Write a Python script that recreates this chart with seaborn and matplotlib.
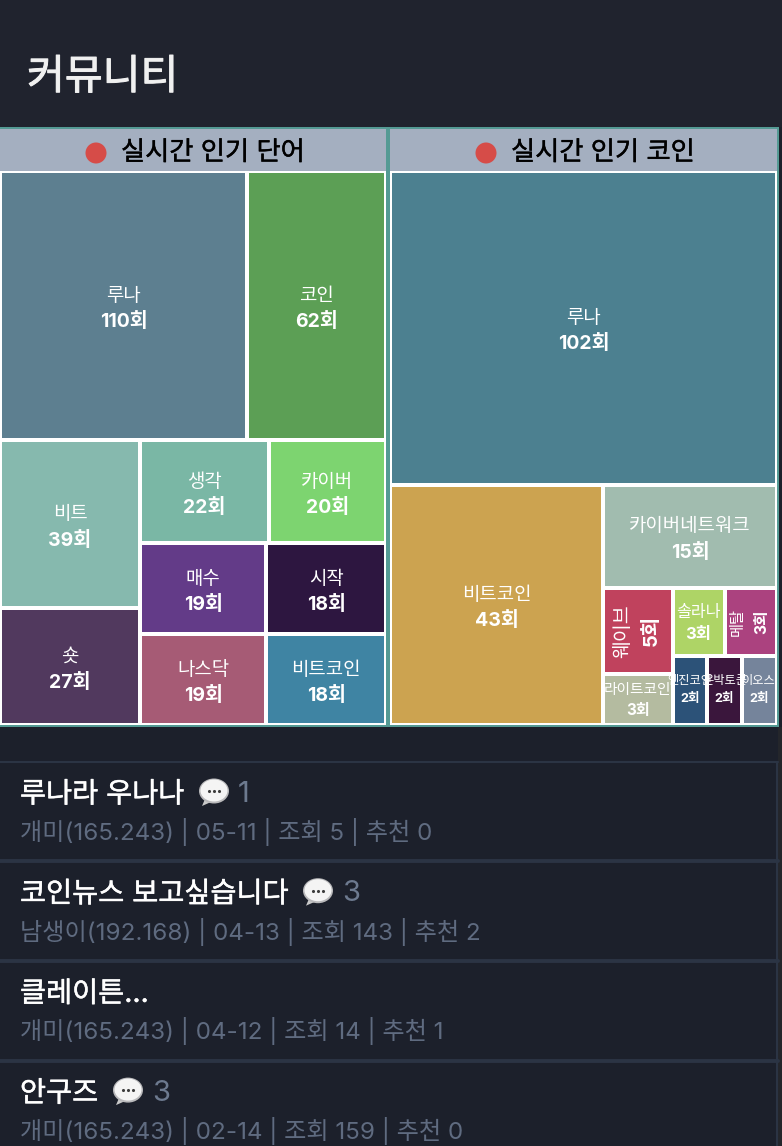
import matplotlib
matplotlib.use("Agg")
import matplotlib.pyplot as plt
from matplotlib.patches import Ellipse, Polygon, Rectangle
import matplotlib.patheffects as pe
import seaborn as sns

# treemap data
word_names = ["루나", "코인", "비트", "숏", "생각", "카이버", "매수", "나스닥", "시작", "비트코인"]
word_counts = [110, 62, 39, 27, 22, 20, 19, 19, 18, 18]
word_colors = ["#5d7f90", "#5c9f55", "#86b9ae", "#51395e", "#7ab7a5",
               "#7dd470", "#633b88", "#a65b75", "#2d1640", "#3f84a3"]

coin_names = ["루나", "비트코인", "카이버네트워크", "웨이브", "라이트코인",
              "솔라나", "메탈", "엔진코인", "온박토큰", "이오스"]
coin_counts = [102, 43, 15, 5, 3, 3, 3, 2, 2, 2]
coin_colors = ["#4c8090", "#cca350", "#a1bcaf", "#c0425d", "#b4bba0",
               "#aed466", "#ab427f", "#2c5278", "#3a163c", "#75849b"]

# board list
post_titles = ["루나라 우나나", "코인뉴스 보고싶습니다", "클레이튼...", "안구즈"]
post_meta = ["개미(165.243) | 05-11 | 조회 5 | 추천 0",
             "남생이(192.168) | 04-13 | 조회 143 | 추천 2",
             "개미(165.243) | 04-12 | 조회 14 | 추천 1",
             "개미(165.243) | 02-14 | 조회 159 | 추천 0"]
post_comments = [1, 3, None, 3]
bubble_x = [214, 318, None, 128]

BG_TOP = "#20232e"
BG_LIST = "#1c202b"
TEAL = "#549a94"
HEADER = "#a4afc0"
LINE = "#2b3444"
FONTS = ["Inter", "Noto Sans CJK KR", "DejaVu Sans"]

# label font size, half line gap and shift where a tile differs from the default
TILE_STYLE = {"라이트코인": (10.6, 10.5, 1), "솔라나": (11.6, 11, 1), "웨이브": (14, 14, -1), "메탈": (11, 12, -1),
              "엔진코인": (8.8, 9, -1), "온박토큰": (8.8, 9, -1), "이오스": (8.8, 9, -1)}
TURNED = ["웨이브", "메탈"]


def squarify(values, x0, y0, x1, y1):
    """Squarified treemap layout, returns (x, y, w, h) per value."""
    rects = []
    remaining = sum(values)
    scale = (x1 - x0) * (y1 - y0) / remaining
    i0 = 0
    n = len(values)
    while i0 < n:
        dx, dy = x1 - x0, y1 - y0
        i1 = i0 + 1
        total = lo = hi = values[i0]
        alpha = max(dy / dx, dx / dy) / remaining
        beta = total * total * alpha
        best = max(hi / beta, beta / lo)
        while i1 < n:
            v = values[i1]
            new_lo, new_hi = min(lo, v), max(hi, v)
            beta = (total + v) ** 2 * alpha
            ratio = max(new_hi / beta, beta / new_lo)
            if ratio > best:
                break
            total += v
            lo, hi, best = new_lo, new_hi, ratio
            i1 += 1
        if dx < dy:
            h = dy * total / remaining
            x = x0
            for v in values[i0:i1]:
                w = v * scale / h
                rects.append((x, y0, w, h))
                x += w
            y0 += h
        else:
            w = dx * total / remaining
            y = y0
            for v in values[i0:i1]:
                h = v * scale / w
                rects.append((x0, y, w, h))
                y += h
            x0 += w
        remaining -= total
        i0 = i1
    return rects


def tile_text(size):
    return dict(ha="center", va="center", color="white", fontsize=size, zorder=3, clip_on=False)


def draw_treemap(ax, names, counts, colors, x0, x1):
    panel = Rectangle((x0, 171), x1 - x0, 554, color="white", lw=0, zorder=1)
    ax.add_patch(panel)
    rects = squarify(counts, x0, 171, x1, 725)
    xs, ys, ws, hs = zip(*rects)
    bars = ax.bar(xs, hs, width=ws, bottom=ys, align="edge", color=colors,
                  edgecolor="white", linewidth=2.88, zorder=2)
    # keep the white tile edges inside the teal frame
    for bar in bars:
        bar.set_clip_path(panel)
    for name, count, (x, y, w, h) in zip(names, counts, rects):
        cx, cy = x + w / 2, y + h / 2
        size, gap, shift = TILE_STYLE.get(name, (13.6, 13, 3))
        if name in TURNED:
            ax.text(cx - gap + shift, cy, name, rotation=90, **tile_text(size))
            ax.text(cx + gap + shift, cy, f"{count}회", rotation=90, fontweight="bold", **tile_text(size * 1.03))
        else:
            ax.text(cx, cy - gap + shift, name, **tile_text(size))
            ax.text(cx, cy + gap + shift, f"{count}회", fontweight="bold", **tile_text(size * 1.03))


def draw_bubble(ax, cx, cy):
    ax.add_patch(Polygon([(cx - 9, cy + 8), (cx - 12, cy + 15), (cx - 3, cy + 11)], color="#c9c9c9", lw=0, zorder=3))
    ax.add_patch(Ellipse((cx, cy), 30, 25, color="#b9b9bb", lw=0, zorder=3))
    ax.add_patch(Ellipse((cx, cy - 0.5), 27, 22, color="#f4f4f4", lw=0, zorder=3))
    sns.scatterplot(x=[cx - 5, cx, cx + 5], y=[cy, cy, cy], color="#3c3c3c", s=5, linewidth=0, ax=ax, zorder=4, legend=False)


def create_chart():
    sns.set_theme(style="white")
    plt.rcParams["font.family"] = FONTS

    fig = plt.figure(figsize=(7.82, 11.46), dpi=100, facecolor=BG_LIST)
    ax = fig.add_axes([0, 0, 1, 1])
    ax.set_xlim(0, 782)
    ax.set_ylim(1146, 0)
    ax.axis("off")

    # regular weight with a thin outline stands in for the medium cut
    medium = [pe.withStroke(linewidth=0.35, foreground="white")]

    # page background and title
    ax.add_patch(Rectangle((0, 0), 782, 127, color=BG_TOP, lw=0, zorder=0))
    ax.add_patch(Rectangle((778, 727), 4, 419, color="#24262b", lw=0, zorder=0))
    ax.text(27, 78, "커뮤니티", color="#f0f0f0", fontsize=29.6, va="center", ha="left",
            path_effects=[pe.withStroke(linewidth=0.7, foreground="#f0f0f0")])

    # teal frame with the two grey header bars
    ax.add_patch(Rectangle((0, 127), 778.5, 600, color=TEAL, lw=0, zorder=0.5))
    for x0, x1, title, dot_x, text_x in [(0, 386, "실시간 인기 단어", 96, 121),
                                         (390, 776.7, "실시간 인기 코인", 486, 511)]:
        ax.add_patch(Rectangle((x0, 129), x1 - x0, 42, color=HEADER, lw=0, zorder=1))
        ax.add_patch(Ellipse((dot_x, 153), 21, 21, color="#d64c48", lw=0, zorder=2))
        ax.text(text_x, 153, title, color="black", fontsize=18.9, va="center", ha="left", zorder=2,
                path_effects=[pe.withStroke(linewidth=0.3, foreground="black")])

    draw_treemap(ax, word_names, word_counts, word_colors, 0, 386)
    draw_treemap(ax, coin_names, coin_counts, coin_colors, 390, 776.7)

    # posts
    ax.plot([0, 778], [762, 762], color=LINE, lw=1.5, zorder=1)
    ax.plot([777, 777], [762, 1146], color=LINE, lw=1.5, zorder=1)
    for sep_y in [861, 961, 1061]:
        ax.plot([0, 778], [sep_y, sep_y], color=LINE, lw=2.8, zorder=1)
    for i, (title, meta) in enumerate(zip(post_titles, post_meta)):
        top = 792 + 99.7 * i
        ax.text(20, top + 3, title, color="white", fontsize=20.4, va="center", ha="left", path_effects=medium)
        ax.text(20, top + 40, meta, color="#5f6b80", fontsize=17.4, va="center", ha="left")
        if post_comments[i] is not None:
            draw_bubble(ax, bubble_x[i], top - 1)
            ax.text(bubble_x[i] + 24, top + 2, str(post_comments[i]), color="#6d7a8f", fontsize=21, va="center", ha="left")

    fig.savefig("out.png", dpi=100, facecolor=fig.get_facecolor())


if __name__ == "__main__":
    create_chart()
